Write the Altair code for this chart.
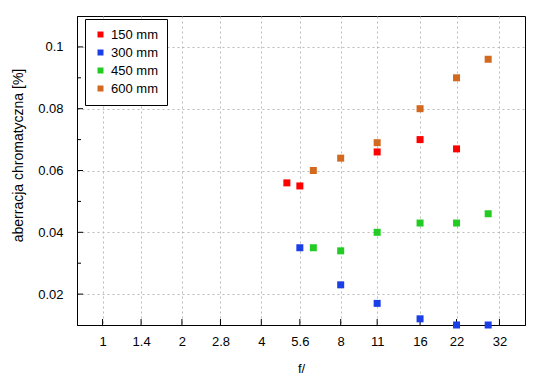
import altair as alt
import pandas as pd

series_names = ["150 mm", "300 mm", "450 mm", "600 mm"]
series_colors = ["#ff0000", "#1a3fe6", "#22cc22", "#d2691e"]

f_150 = [5.0, 5.6, 11, 16, 22]
v_150 = [0.056, 0.055, 0.066, 0.070, 0.067]
f_300 = [5.6, 8, 11, 16, 22, 29]
v_300 = [0.035, 0.023, 0.017, 0.012, 0.010, 0.010]
f_450 = [6.3, 8, 11, 16, 22, 29]
v_450 = [0.035, 0.034, 0.040, 0.043, 0.043, 0.046]
f_600 = [6.3, 8, 11, 16, 22, 29]
v_600 = [0.060, 0.064, 0.069, 0.080, 0.090, 0.096]

x_ticks = [1, 1.4, 2, 2.8, 4, 5.6, 8, 11, 16, 22, 32]
y_major = [0.02, 0.04, 0.06, 0.08, 0.1]
y_minor = [0.03, 0.05, 0.07, 0.09]

rows = []
for name, fs, vs in zip(series_names, [f_150, f_300, f_450, f_600], [v_150, v_300, v_450, v_600]):
    for f, v in zip(fs, vs):
        rows.append({"f": f, "v": v, "s": name})
df = pd.DataFrame(rows)

W, H = 448, 309
FONT = "Liberation Sans"

xscale = alt.Scale(type="log", base=2, domain=[0.8, 40], nice=False)
yscale = alt.Scale(domain=[0.01, 0.11], nice=False, zero=False)

points = alt.Chart(df).mark_point(shape="square", filled=True, size=49, opacity=1).encode(
    x=alt.X("f:Q", scale=xscale, title="f/",
            axis=alt.Axis(values=x_ticks, format=".2~r", ticks=False, labelPadding=10,
                          titlePadding=14, grid=True, gridDash=[2, 3], gridColor="#bbbbbb",
                          domainColor="black", labelFlush=False)),
    y=alt.Y("v:Q", scale=yscale, title="aberracja chromatyczna [%]",
            axis=alt.Axis(values=y_major, format="~g", ticks=False, labelPadding=14,
                          titlePadding=12, titleFontSize=14, titleY=139,
                          grid=True, gridDash=[2, 3], gridColor="#bbbbbb",
                          domainColor="black")),
    color=alt.Color("s:N", scale=alt.Scale(domain=series_names, range=series_colors),
                    legend=alt.Legend(title=None, orient="none", legendX=8, legendY=3,
                                      symbolType="square", symbolSize=36, labelFontSize=13,
                                      labelFont=FONT, rowPadding=4, padding=9,
                                      strokeColor="black", fillColor="white",
                                      labelOffset=4, symbolStrokeWidth=0)),
)

xt = alt.Chart(pd.DataFrame({"f": x_ticks})).mark_rule(color="black").encode(
    x=alt.X("f:Q", scale=xscale), y=alt.value(H), y2=alt.value(H - 6))
ymaj = alt.Chart(pd.DataFrame({"v": y_major})).mark_rule(color="black").encode(
    y=alt.Y("v:Q", scale=yscale), x=alt.value(0), x2=alt.value(6))
ymin = alt.Chart(pd.DataFrame({"v": y_minor})).mark_rule(color="black").encode(
    y=alt.Y("v:Q", scale=yscale), x=alt.value(0), x2=alt.value(4))

chart = alt.layer(xt, ymaj, ymin, points).properties(
    width=W, height=H,
    background="white",
    autosize=alt.AutoSizeParams(type="none"),
    padding={"left": 69, "top": 8, "right": 10, "bottom": 55},
).configure_view(stroke="black", strokeWidth=1).configure_axis(
    labelFont=FONT, titleFont=FONT, labelFontSize=13, titleFontSize=13,
    labelColor="black", titleColor="black", titleFontWeight="normal"
)

chart.save("out.html", embed_options={"renderer": "svg", "actions": False})
